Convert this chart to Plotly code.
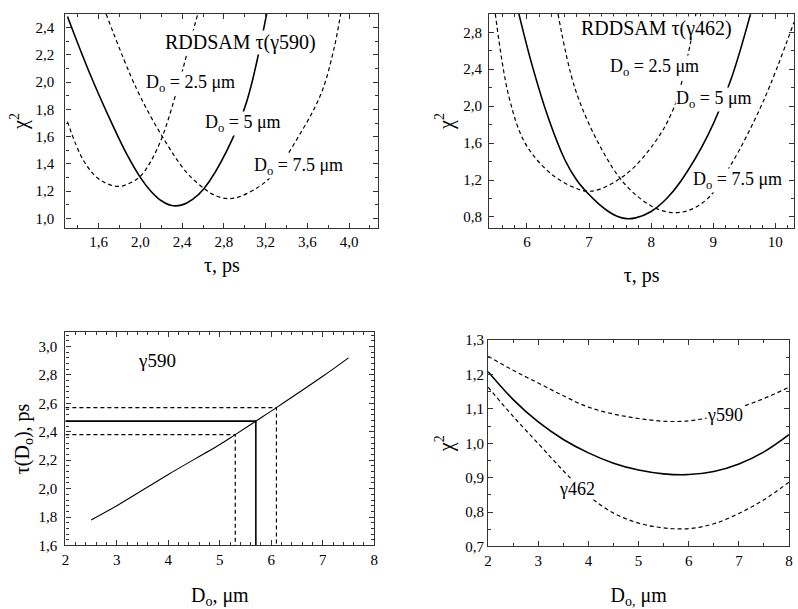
import plotly.graph_objects as go

# ---- top-left: chi^2 vs tau for gamma 590 ----
t590_d25_x = [1.30, 1.45, 1.60, 1.78, 1.90, 2.00, 2.10, 2.21, 2.35, 2.44, 2.55]
t590_d25_y = [1.71, 1.43, 1.29, 1.235, 1.26, 1.31, 1.42, 1.60, 1.94, 2.19, 2.50]
t590_d5_x = [1.30, 1.51, 1.73, 1.87, 2.00, 2.10, 2.20, 2.30, 2.40, 2.50, 2.61, 2.83, 3.02, 3.21]
t590_d5_y = [2.48, 2.07, 1.69, 1.47, 1.30, 1.20, 1.13, 1.095, 1.10, 1.14, 1.22, 1.50, 1.86, 2.50]
t590_d75_x = [1.67, 1.96, 2.21, 2.44, 2.61, 2.70, 2.82, 2.95, 3.23, 3.55, 3.74, 3.86, 3.92]
t590_d75_y = [2.50, 1.955, 1.60, 1.34, 1.22, 1.175, 1.147, 1.16, 1.29, 1.645, 1.93, 2.26, 2.50]

# ---- top-right: chi^2 vs tau for gamma 462 ----
t462_d25_x = [5.49, 5.71, 5.97, 6.35, 6.72, 7.04, 7.57, 8.05, 8.37, 8.59, 8.72]
t462_d25_y = [3.00, 2.10, 1.60, 1.29, 1.13, 1.08, 1.25, 1.60, 1.99, 2.55, 3.00]
t462_d5_x = [5.87, 6.08, 6.35, 6.61, 6.80, 6.96, 7.15, 7.30, 7.45, 7.60, 7.75, 8.00, 8.25, 8.48, 8.91, 9.28, 9.60]
t462_d5_y = [3.00, 2.45, 1.86, 1.42, 1.20, 1.07, 0.945, 0.865, 0.808, 0.782, 0.79, 0.86, 1.00, 1.19, 1.68, 2.28, 3.00]
t462_d75_x = [6.50, 6.77, 7.15, 7.57, 8.00, 8.30, 8.60, 8.91, 9.28, 9.81, 10.30]
t462_d75_y = [3.00, 2.20, 1.60, 1.16, 0.92, 0.85, 0.87, 1.00, 1.36, 2.06, 2.91]

# ---- bottom-left: tau(Do) for gamma 590 ----
do_x = [2.5, 3.0, 4.0, 5.0, 5.3, 5.7, 6.1, 7.0, 7.5]
tau_do = [1.78, 1.88, 2.10, 2.31, 2.38, 2.475, 2.57, 2.79, 2.92]
best_do, best_tau = 5.7, 2.475
low_do, low_tau = 5.3, 2.38
high_do, high_tau = 6.1, 2.57

# ---- bottom-right: chi^2 vs Do ----
do_grid = [2.0, 2.5, 3.0, 3.5, 4.0, 4.5, 5.0, 5.5, 6.0, 6.5, 7.0, 7.5, 8.0]
chi_g590 = [1.253, 1.212, 1.175, 1.138, 1.105, 1.085, 1.072, 1.064, 1.065, 1.078, 1.103, 1.130, 1.163]
chi_mid = [1.208, 1.127, 1.062, 1.011, 0.972, 0.942, 0.922, 0.911, 0.909, 0.918, 0.940, 0.975, 1.025]
chi_g462 = [1.163, 1.078, 0.999, 0.920, 0.848, 0.797, 0.768, 0.754, 0.752, 0.766, 0.796, 0.836, 0.887]

FONT = "Liberation Serif, DejaVu Serif, Times New Roman, serif"
SOLID = dict(color="black", width=1.6)
DASHED = dict(color="black", width=1.2, dash="4px,3px")

fig = go.Figure()


def curve(x, y, line, ax, shape="spline"):
    fig.add_trace(go.Scatter(x=x, y=y, mode="lines", line=dict(line, shape=shape),
                             xaxis="x" + ax, yaxis="y" + ax, showlegend=False,
                             hoverinfo="skip"))


curve(t590_d25_x, t590_d25_y, DASHED, "")
curve(t590_d5_x, t590_d5_y, SOLID, "")
curve(t590_d75_x, t590_d75_y, DASHED, "")

curve(t462_d25_x, t462_d25_y, DASHED, "2")
curve(t462_d5_x, t462_d5_y, SOLID, "2")
curve(t462_d75_x, t462_d75_y, DASHED, "2")

curve(do_x, tau_do, dict(color="black", width=1.1), "3")
curve([2.0, best_do, best_do], [best_tau, best_tau, 1.6], SOLID, "3", "linear")
curve([2.0, low_do, low_do], [low_tau, low_tau, 1.6], DASHED, "3", "linear")
curve([2.0, high_do, high_do], [high_tau, high_tau, 1.6], DASHED, "3", "linear")

curve(do_grid, chi_g590, DASHED, "4")
curve(do_grid, chi_mid, SOLID, "4")
curve(do_grid, chi_g462, DASHED, "4")


def axis(domain, rng, dtick, minor, title, standoff, anchor, fmt=None, lab_off=0):
    a = dict(
        domain=domain, range=rng, anchor=anchor, tick0=0, dtick=dtick,
        showline=True, linecolor="#333", linewidth=1.3, mirror="allticks",
        ticks="inside", ticklen=5, tickwidth=1, tickcolor="#333",
        minor=dict(ticks="inside", ticklen=3, dtick=minor, tickcolor="#333"),
        showgrid=False, zeroline=False, ticklabelstandoff=lab_off,
        tickfont=dict(family=FONT, size=15, color="black"),
        title=dict(text=title, font=dict(family=FONT, size=20, color="black"),
                   standoff=standoff),
    )
    if fmt:
        a["tickformat"] = fmt
    return a


W, H = 798, 609


def xd(a, b):
    return [a / W, b / W]


def yd(top, bottom):
    return [1 - bottom / H, 1 - top / H]


chi = "χ<sup>2</sup>"
do_um = "D<sub>o</sub>, μm"

fig.update_layout(
    width=W, height=H, margin=dict(l=0, r=0, t=0, b=0),
    paper_bgcolor="white", plot_bgcolor="white", separators=", ",
    font=dict(family=FONT, color="black"),
    xaxis=axis(xd(62, 378), [1.28, 4.28], 0.4, 0.2, "τ, ps", 8, "y", ".1f"),
    yaxis=axis(yd(6, 226), [0.93, 2.50], 0.2, 0.1, chi, 2, "x", ".1f", 7),
    xaxis2=axis(xd(490, 798), [5.39, 10.30], 1, 0.2, "τ, ps", 18, "y2"),
    yaxis2=axis(yd(6, 226), [0.68, 3.0], 0.4, 0.2, chi, 4, "x2", ".1f", 3),
    xaxis3=axis(xd(62, 374), [2, 8], 1, 0.2, do_um, 22, "y3"),
    yaxis3=axis(yd(333, 552), [1.6, 3.1], 0.2, 0.04, "τ(D<sub>o</sub>), ps", 3, "x3", ".1f", 4),
    xaxis4=axis(xd(489, 793), [2, 8], 1, 0.5, "D<sub>o,</sub> μm", 20, "y4"),
    yaxis4=axis(yd(341, 553), [0.7, 1.3], 0.1, 0.05, chi, 6, "x4", ".1f"),
)


def label(text, x, y, ax, size=18, bg=True):
    fig.add_annotation(text=text, x=x, y=y, xref="x" + ax, yref="y" + ax,
                       showarrow=False, font=dict(family=FONT, size=size, color="black"),
                       bgcolor="white" if bg else None, borderpad=0)


label("RDDSAM τ(γ590)", 2.955, 2.29, "", 20)
label("D<sub>o</sub> = 2.5 μm", 2.48, 1.99, "")
label("D<sub>o</sub> = 5 μm", 2.98, 1.70, "")
label("D<sub>o</sub> = 7.5 μm", 3.52, 1.38, "")

label("RDDSAM τ(γ462)", 8.08, 2.84, "2", 20)
label("D<sub>o</sub> = 2.5 μm", 8.05, 2.42, "2")
label("D<sub>o</sub> = 5 μm", 9.01, 2.07, "2")
label("D<sub>o</sub> = 7.5 μm", 9.39, 1.19, "2")

label("γ590", 3.78, 2.90, "3", 19, bg=False)

label("γ590", 6.72, 1.083, "4")
label("γ462", 3.77, 0.866, "4")

fig.write_html("out.html")
